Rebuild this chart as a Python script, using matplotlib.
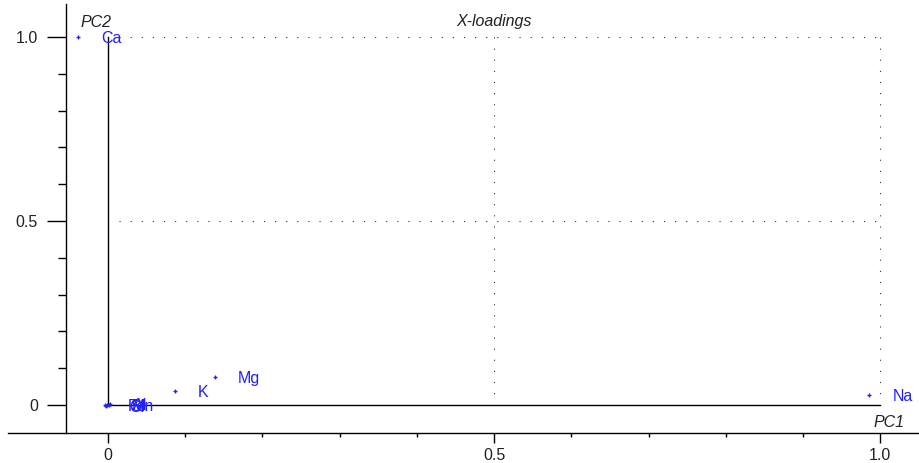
import matplotlib
matplotlib.use("Agg")
import matplotlib.pyplot as plt
from matplotlib.ticker import FixedLocator

plt.rcParams['font.family'] = ['Liberation Sans', 'DejaVu Sans']

# Data (PC1, PC2 loadings)
labels = ["Ca", "Na", "Mg", "K", "Fe", "Cl", "Si", "Mn", "Al"]
pc1 = [-0.039, 0.986, 0.139, 0.087, -0.004, -0.002, -0.001, 0.001, 0.003]
pc2 = [1.000, 0.027, 0.076, 0.038, 0.001, -0.002, 0.000, -0.001, 0.002]

xticks = [0, 0.5, 1.0]
xticklabels = ["0", "0.5", "1.0"]
yticks = [0, 0.5, 1.0]
yticklabels = ["0", "0.5", "1.0"]
minor_ticks = [0.1, 0.2, 0.3, 0.4, 0.6, 0.7, 0.8, 0.9]

W, H = 920, 463
fig = plt.figure(figsize=(W / 100, H / 100), dpi=100)
ax = fig.add_axes([8 / W, (H - 433) / H, (918 - 8) / W, (433 - 4) / H])

ax.set_xlim(-0.1295, 1.049)
ax.set_ylim(-0.0761, 1.0897)

blue = "#2020ff"
ink = "#222222"

# spines
for s in ["top", "right"]:
    ax.spines[s].set_visible(False)
ax.spines["left"].set_position(("data", -0.0544))
for s in ["left", "bottom"]:
    ax.spines[s].set_color("black")
    ax.spines[s].set_linewidth(1.0)

# ticks
ax.xaxis.set_major_locator(FixedLocator(xticks))
ax.set_xticklabels(xticklabels)
ax.yaxis.set_major_locator(FixedLocator(yticks))
ax.set_yticklabels(yticklabels)
ax.xaxis.set_minor_locator(FixedLocator(minor_ticks))
ax.yaxis.set_minor_locator(FixedLocator(minor_ticks))
ax.tick_params(axis="x", which="major", length=7.2, width=1.0, pad=3.5,
               labelsize=11.5, labelcolor=ink)
ax.tick_params(axis="x", which="minor", length=3.0, width=1.0)
ax.tick_params(axis="y", which="major", length=13.7, width=1.0, pad=6.5,
               labelsize=11.5, labelcolor=ink)
ax.tick_params(axis="y", which="minor", length=5.8, width=1.0)

# solid axes through origin
ax.plot([0, 0], [0, 1.0], color="black", lw=1.0, zorder=2)
ax.plot([0, 1.0], [0, 0], color="black", lw=1.0, zorder=2)

# dotted guide lines
dot = dict(color="#333333", lw=0.8, linestyle=(0, (1, 9)), zorder=1)
for yv in [0.5, 1.0]:
    ax.plot([0.014, 1.0], [yv, yv], **dot)
for xv in [0.5, 1.0]:
    ax.plot([xv, xv], [1.0, 0.03], **dot)

# points + labels
ax.plot(pc1, pc2, linestyle="none", marker="+", markersize=3.5, mew=1.0,
        color=blue, zorder=3)
for lab, x, y in zip(labels, pc1, pc2):
    ax.annotate(lab, (x, y), xytext=(16.5, 0), textcoords="offset points",
                ha="left", va="center_baseline", fontsize=11.5, color=blue)

# axis captions
ax.text(-0.036, 1.027, "PC2", style="italic", fontsize=11.5, color=ink,
        ha="left", va="baseline")
ax.text(1.032, -0.06, "PC1", style="italic", fontsize=11.5, color=ink,
        ha="right", va="baseline")
ax.text(0.5, 1.043, "X-loadings", style="italic", fontsize=11.5, color=ink,
        ha="center", va="center")

fig.savefig("out.png", dpi=100)
